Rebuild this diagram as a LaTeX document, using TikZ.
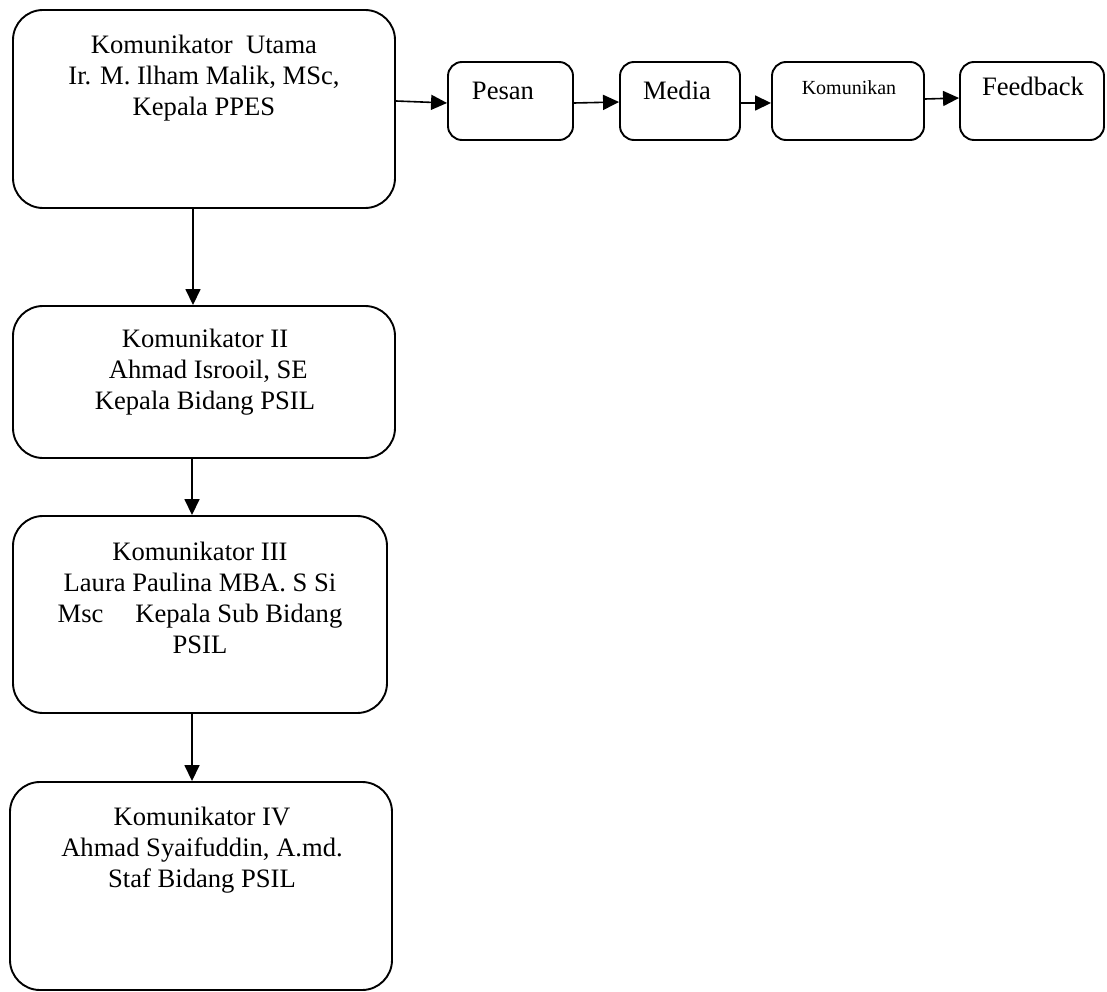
\documentclass[tikz,border=0pt]{standalone}
\usepackage{fontspec}
\setmainfont{Liberation Serif}
\usetikzlibrary{arrows.meta}

\tikzset{
  bigbox/.style={draw, line width=1.9pt, rounded corners=30pt, inner sep=0pt},
  smallbox/.style={draw, line width=1.9pt, rounded corners=14pt, inner sep=0pt,
    minimum height=78pt},
  bigtext/.style={align=center, inner sep=0pt, anchor=north,
    font=\fontsize{26.6}{31}\selectfont},
  smalltext/.style={inner sep=0pt, anchor=base, font=\fontsize{26.6}{31}\selectfont},
  flow/.style={line width=1.6pt, -{Triangle[length=16pt,width=15pt]}}
}

\begin{document}
\begin{tikzpicture}[x=1pt, y=-1pt]
  \useasboundingbox (0,0) rectangle (1107,992);

  % communicator chain
  \node[bigbox, minimum width=382pt, minimum height=198pt] (k1) at (204,109) {};
  \node[bigbox, minimum width=382pt, minimum height=152pt] (k2) at (204,382) {};
  \node[bigbox, minimum width=374pt, minimum height=197pt] (k3) at (200,614.5) {};
  \node[bigbox, minimum width=382pt, minimum height=208pt] (k4) at (201,886) {};

  \node[bigtext] (k1t) at (204,35) {Komunikator\ \ Utama\\Ir. M. Ilham Malik, MSc,\\Kepala PPES};
  \node[bigtext] (k2t) at (205,329) {Komunikator II\\\ Ahmad Isrooil, SE\\Kepala Bidang PSIL};
  \node[bigtext] (k3t) at (200,542) {Komunikator III\\Laura Paulina MBA. S Si\\Msc\hspace{1.2em}Kepala Sub Bidang\\PSIL};
  \node[bigtext] (k4t) at (202,807) {Komunikator IV\\Ahmad Syaifuddin, A.md.\\Staf Bidang PSIL};

  % message flow
  \node[smallbox, minimum width=125pt] (pesan) at (510.5,101) {};
  \node[smallbox, minimum width=120pt] (media) at (680,101) {};
  \node[smallbox, minimum width=152pt] (komunikan) at (848,101) {};
  \node[smallbox, minimum width=144pt] (feedback) at (1032,101) {};

  \node[smalltext] (pesant) at (503,100) {Pesan};
  \node[smalltext] (mediat) at (677,100) {Media};
  \node[smalltext, font=\fontsize{20}{24}\selectfont] (komunikant) at (849,95) {Komunikan};
  \node[smalltext] (feedbackt) at (1033,96) {Feedback};

  % connectors
  \draw[flow] ([yshift=8pt]k1.east) -- ([yshift=-2pt]pesan.west);
  \draw[flow] ([yshift=-2pt]pesan.east) -- ([yshift=-1pt]media.west);
  \draw[flow] ([yshift=-2pt]media.east) -- ([yshift=-2pt]komunikan.west);
  \draw[flow] ([yshift=2pt]komunikan.east) -- ([yshift=3pt]feedback.west);

  \draw[flow] ([xshift=-11pt]k1.south) -- ([xshift=-11pt]k2.north);
  \draw[flow] ([xshift=-12pt]k2.south) -- ([xshift=-8pt]k3.north);
  \draw[flow] ([xshift=-8pt]k3.south) -- ([xshift=-9pt]k4.north);
\end{tikzpicture}
\end{document}
